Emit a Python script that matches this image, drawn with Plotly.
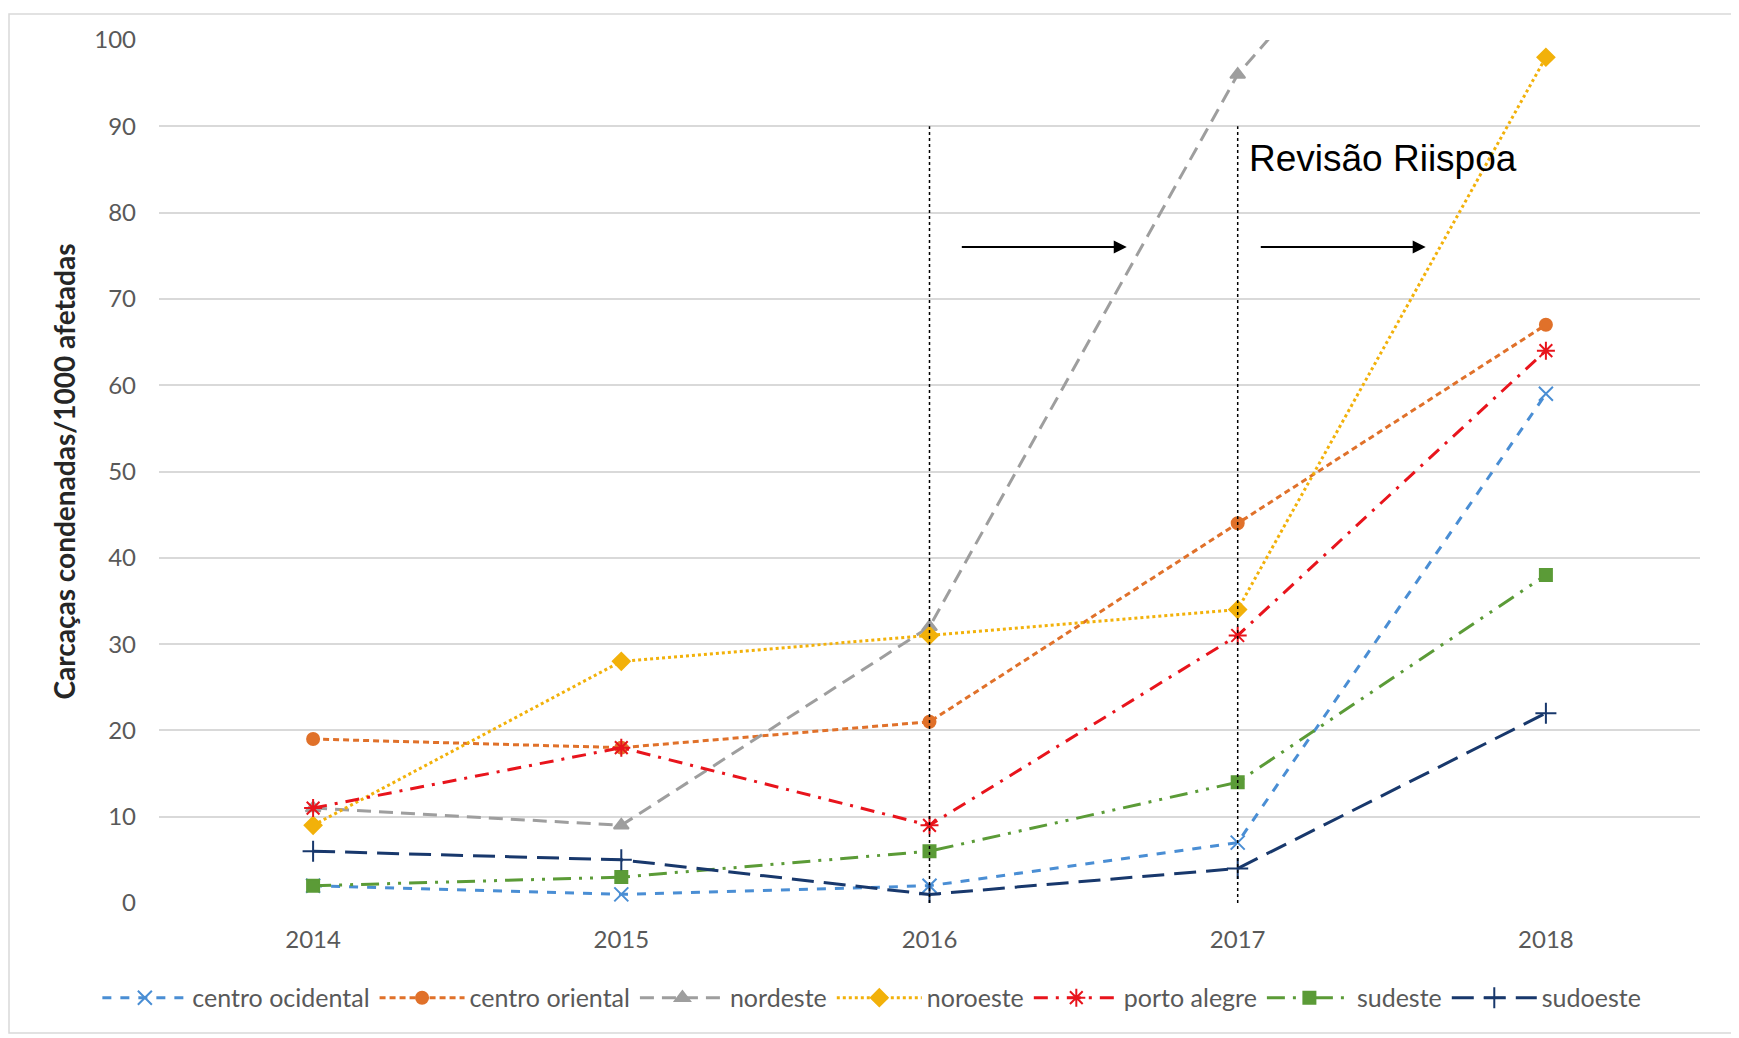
import plotly.graph_objects as go

years = [2014, 2015, 2016, 2017, 2018]
series_names = ["centro ocidental", "centro oriental", "nordeste", "noroeste",
                "porto alegre", "sudeste", "sudoeste"]
centro_ocidental = [2, 1, 2, 7, 59]
centro_oriental = [19, 18, 21, 44, 67]
nordeste = [11, 9, 32, 96, 137]
noroeste = [9, 28, 31, 34, 98]
porto_alegre = [11, 18, 9, 31, 64]
sudeste = [2, 3, 6, 14, 38]
sudoeste = [6, 5, 1, 4, 22]

y_ticks = [0, 10, 20, 30, 40, 50, 60, 70, 80, 90, 100]
ref_years = [2016, 2017]
ref_top = 90
annotation_text = "Revisão Riispoa"
y_title = "Carcaças condenadas/1000 afetadas"

styles = [
    dict(color="#4A8ED4", dash="dash", symbol="x-thin-open", size=14),
    dict(color="#E0712A", dash="6px,4px", symbol="circle", size=12),
    dict(color="#9E9E9E", dash="14px,8px", symbol="triangle-up", size=13),
    dict(color="#F2B10A", dash="dot", symbol="diamond", size=13),
    dict(color="#E8141C", dash="14px,8px,3px,8px", symbol="asterisk-open", size=15),
    dict(color="#5B9B37", dash="18px,8px,3px,8px,3px,8px", symbol="square", size=12),
    dict(color="#18386C", dash="22px,10px", symbol="cross-thin-open", size=15),
]
data = [centro_ocidental, centro_oriental, nordeste, noroeste, porto_alegre, sudeste, sudoeste]

fig = go.Figure()
for name, vals, st in zip(series_names, data, styles):
    fig.add_trace(go.Scatter(
        x=years, y=vals, name=name, mode="lines+markers",
        line=dict(color=st["color"], dash=st["dash"], width=3),
        marker=dict(symbol=st["symbol"], size=st["size"], color=st["color"],
                    line=dict(color=st["color"], width=2)),
    ))

# page body has an 8px margin; compensate so the plot lands where the reference's does
W, H = 1731, 1030
l, r, t, b = 151, 39, 32, 135
pw = W - l - r
ph = H - t - b

shapes = []
for yr in ref_years:
    shapes.append(dict(type="line", xref="x", yref="y", x0=yr, x1=yr, y0=0, y1=ref_top,
                       line=dict(color="black", width=1.5, dash="dot")))
shapes.append(dict(type="rect", xref="paper", yref="paper",
                   x0=(1 - l) / pw, x1=(1736 - 8 - l) / pw,
                   y0=-(1033 - 8 - (H - b)) / ph, y1=(H - b - (6 - 8 + 8)) / ph,
                   line=dict(color="#D9D9D9", width=1.5), layer="below"))

arrow_starts = [2016.10, 2017.07]
arrow_ends = [2016.64, 2017.61]
arrow_y = 76
annotations = []
for s, e in zip(arrow_starts, arrow_ends):
    annotations.append(dict(x=e, y=arrow_y, ax=s, ay=arrow_y, xref="x", yref="y",
                            axref="x", ayref="y", text="", showarrow=True,
                            arrowhead=2, arrowsize=1.3, arrowwidth=2, arrowcolor="black"))
annotations.append(dict(x=2017.03, y=86.3, xref="x", yref="y", text=annotation_text,
                        showarrow=False, xanchor="left", yanchor="middle",
                        font=dict(family="Liberation Sans, Arial", size=37, color="black")))

fig.update_layout(
    width=W, height=H,
    margin=dict(l=l, r=r, t=t, b=b),
    paper_bgcolor="white", plot_bgcolor="white",
    font=dict(family="Lato, Carlito, Calibri, sans-serif", color="#595959", size=24),
    shapes=shapes, annotations=annotations,
    xaxis=dict(range=[2013.5, 2018.5], tickvals=years, ticktext=[str(y) for y in years],
               showgrid=False, zeroline=False, showline=False, ticks="",
               tickfont=dict(size=24, color="#595959"), ticklabelstandoff=20),
    yaxis=dict(range=[0, 100], tickvals=y_ticks, showgrid=True, gridcolor="#D9D9D9",
               gridwidth=1.5, zeroline=False, showline=False, ticks="",
               tickfont=dict(size=24, color="#595959"), ticklabelstandoff=22,
               title=dict(text="<b>" + y_title + "</b>", standoff=10,
                          font=dict(size=28, color="#262626"))),
    legend=dict(orientation="h", x=-0.04, xanchor="left", y=-0.11, yanchor="middle",
                font=dict(size=25, color="#595959"), tracegroupgap=0, itemwidth=85),
    showlegend=True,
)
fig.write_html("out.html")
